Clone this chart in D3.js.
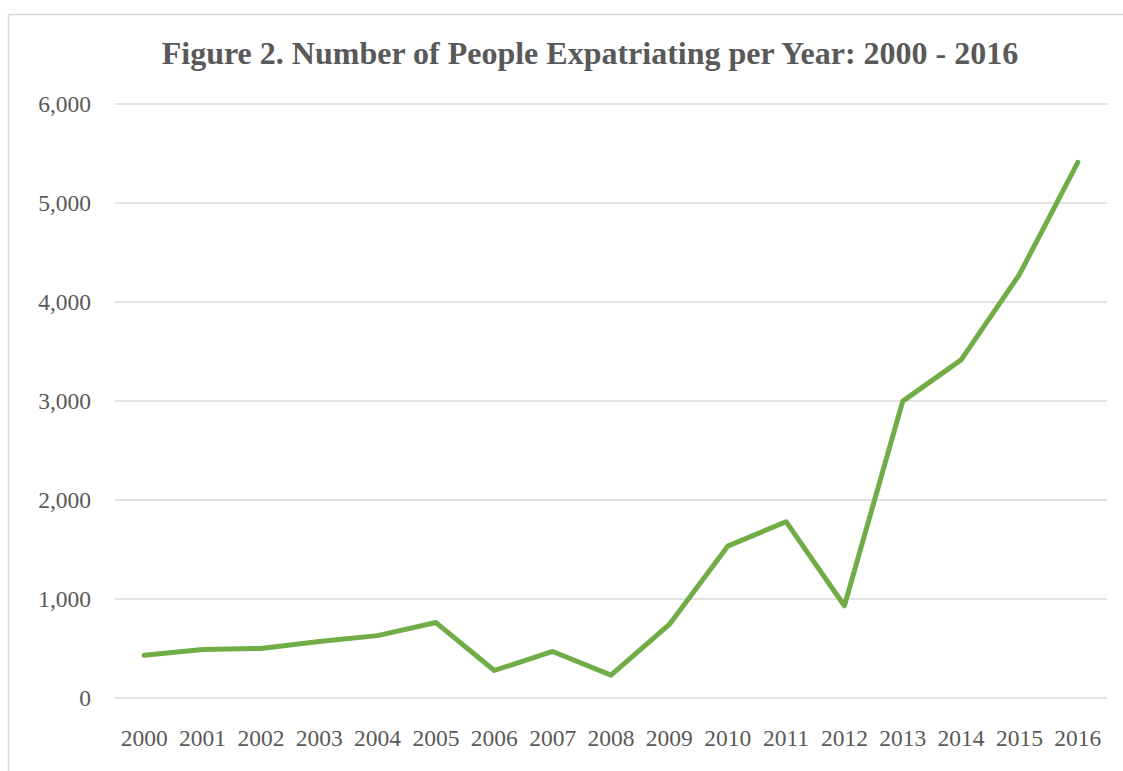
<!DOCTYPE html>
<html>
<head>
<meta charset="utf-8">
<script src="https://cdn.jsdelivr.net/npm/d3@7"></script>
<style>
  body { margin: 0; background: #fff; }
  svg { display: block; }
</style>
</head>
<body>
<div id="chart"></div>
<script>
// data
var years = ["2000", "2001", "2002", "2003", "2004", "2005", "2006", "2007", "2008",
             "2009", "2010", "2011", "2012", "2013", "2014", "2015", "2016"];
var expatriates = [431, 490, 500, 570, 630, 762, 278, 470, 231,
                   743, 1534, 1781, 932, 2999, 3415, 4279, 5411];
var yTicks = [0, 1000, 2000, 3000, 4000, 5000, 6000];

var W = 1123, H = 771;
var margin = { top: 104, right: 16, bottom: 73, left: 115 };

var svg = d3.select("#chart").append("svg")
    .attr("width", W)
    .attr("height", H);

// chart area border
svg.append("rect")
    .attr("x", 8.5).attr("y", 14.5)
    .attr("width", W + 20).attr("height", H + 20)
    .attr("fill", "none")
    .attr("stroke", "#d9d9d9")
    .attr("stroke-width", 1.5);

var x = d3.scaleBand()
    .domain(years)
    .range([margin.left, W - margin.right]);

var y = d3.scaleLinear()
    .domain([0, 6000])
    .range([H - margin.bottom, margin.top]);

// gridlines
svg.append("g")
    .selectAll("line")
    .data(yTicks).enter().append("line")
    .attr("x1", margin.left)
    .attr("x2", W - margin.right)
    .attr("y1", function(d) { return y(d); })
    .attr("y2", function(d) { return y(d); })
    .attr("stroke", "#d9d9d9")
    .attr("stroke-width", 1.5);

// y axis labels
var yAxis = svg.append("g")
    .attr("transform", "translate(" + (margin.left - 24) + ",0)")
    .call(d3.axisLeft(y).tickValues(yTicks).tickSize(0).tickFormat(d3.format(",")));
yAxis.select(".domain").remove();
yAxis.selectAll("text")
    .attr("x", 0)
    .attr("fill", "#595959")
    .style("font-family", "'Liberation Serif', 'Times New Roman', serif")
    .style("font-size", "23.5px");

// x axis labels
var xAxis = svg.append("g")
    .attr("transform", "translate(0," + (H - margin.bottom + 28) + ")")
    .call(d3.axisBottom(x).tickSize(0));
xAxis.select(".domain").remove();
xAxis.selectAll("text")
    .attr("fill", "#595959")
    .style("font-family", "'Liberation Serif', 'Times New Roman', serif")
    .style("font-size", "23.5px");

// the line
var line = d3.line()
    .x(function(d, i) { return x(years[i]) + x.bandwidth() / 2; })
    .y(function(d) { return y(d); });

svg.append("path")
    .datum(expatriates)
    .attr("d", line)
    .attr("fill", "none")
    .attr("stroke", "#70ad47")
    .attr("stroke-width", 5)
    .attr("stroke-linejoin", "round")
    .attr("stroke-linecap", "round");

// title
svg.append("text")
    .attr("x", 590)
    .attr("y", 64)
    .attr("text-anchor", "middle")
    .attr("fill", "#595959")
    .style("font-family", "'Liberation Serif', 'Times New Roman', serif")
    .style("font-weight", "bold")
    .style("font-size", "32px")
    .text("Figure 2. Number of People Expatriating per Year: 2000 - 2016");
</script>
</body>
</html>
